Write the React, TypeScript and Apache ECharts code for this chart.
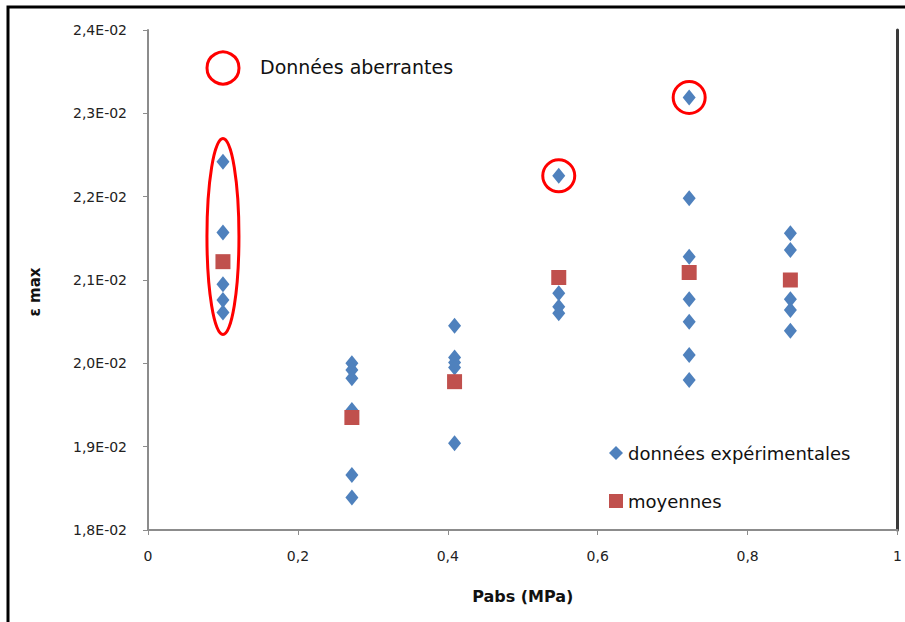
import React, { useEffect, useRef } from "react";
import * as echarts from "echarts";

// Pression absolue (MPa) de chaque groupe d'essais
const pressures = [0.1, 0.272, 0.409, 0.548, 0.722, 0.857];

// Données expérimentales (ε max) par pression
const experimental = [
  [0.02242, 0.02157, 0.02095, 0.02076, 0.02061],
  [0.02000, 0.01992, 0.01982, 0.01944, 0.01866, 0.01839],
  [0.02045, 0.02007, 0.02001, 0.01995, 0.01904],
  [0.02225, 0.02084, 0.02068, 0.02060],
  [0.02319, 0.02198, 0.02128, 0.02077, 0.02050, 0.02010, 0.01980],
  [0.02156, 0.02136, 0.02077, 0.02064, 0.02039],
];

// Moyennes par pression
const means = [0.02122, 0.01935, 0.01978, 0.02103, 0.02109, 0.02100];

// Données aberrantes (centre de l'annotation)
const outlierX = [0.1, 0.548, 0.722];
const outlierY = [0.021522, 0.02225, 0.02319];

const yTicks = { min: 0.018, max: 0.024, interval: 0.001 };
const xTicks = { min: 0, max: 1, interval: 0.2 };

const FONT = "DejaVu Sans";

export default function App() {
  const ref = useRef<HTMLDivElement>(null);
  useEffect(() => {
    if (!ref.current) return;
    const chart = echarts.init(ref.current, undefined, { renderer: "svg" });
    const expData: number[][] = [];
    pressures.forEach((p, i) => experimental[i].forEach((v) => expData.push([p, v])));
    // pixel radii of the red annotation rings
    const radii = [
      [16, 98],
      [16, 16],
      [16, 16],
    ];
    chart.setOption({
      animation: false,
      backgroundColor: "#fff",
      grid: { left: 148, right: 7, top: 30, bottom: 92 },
      xAxis: {
        type: "value",
        ...xTicks,
        name: "Pabs (MPa)",
        nameLocation: "middle",
        nameGap: 58,
        nameTextStyle: { fontFamily: FONT, fontSize: 16, fontWeight: "bold", color: "#111" },
        axisLine: { show: true, lineStyle: { color: "#8c8c8c", width: 2 } },
        axisTick: { show: true, length: 5, lineStyle: { color: "#8c8c8c", width: 1 } },
        axisLabel: {
          margin: 19,
          fontFamily: FONT,
          fontSize: 14,
          color: "#222",
          formatter: (v: number) => String(Number(v.toFixed(1))).replace(".", ","),
        },
        splitLine: { show: false },
      },
      yAxis: [
        {
          type: "value",
          ...yTicks,
          name: "ε max",
          nameLocation: "middle",
          nameRotate: 90,
          nameGap: 106,
          nameTextStyle: { fontFamily: FONT, fontSize: 15, fontWeight: "bold", color: "#111", padding: [0, 24, 0, 0] },
          axisLine: { show: true, lineStyle: { color: "#8c8c8c", width: 2 } },
          axisTick: { show: true, length: 5, lineStyle: { color: "#8c8c8c", width: 1 } },
          axisLabel: {
            margin: 21,
            fontFamily: FONT,
            fontSize: 14,
            color: "#222",
            formatter: (v: number) => (v * 100).toFixed(1).replace(".", ",") + "E-02",
          },
          splitLine: { show: false },
        },
        {
          type: "value",
          ...yTicks,
          position: "right",
          axisLine: { show: true, lineStyle: { color: "#3a3a3a", width: 3 } },
          axisTick: { show: false },
          axisLabel: { show: false },
          splitLine: { show: false },
        },
      ],
      legend: {
        orient: "vertical",
        left: 604,
        top: 439,
        itemGap: 30,
        itemWidth: 14,
        itemHeight: 14,
        textStyle: { fontFamily: FONT, fontSize: 18, color: "#111" },
        data: [
          { name: "données expérimentales", icon: "diamond" },
          { name: "moyennes", icon: "rect" },
        ],
      },
      series: [
        {
          type: "scatter",
          name: "données expérimentales",
          symbol: "diamond",
          symbolSize: [13, 16],
          itemStyle: { color: "#4F81BD", opacity: 1 },
          data: expData,
        },
        {
          type: "scatter",
          name: "moyennes",
          symbol: "rect",
          symbolSize: 15,
          itemStyle: { color: "#C0504D", opacity: 1 },
          data: pressures.map((p, i) => [p, means[i]]),
        },
        {
          type: "custom",
          name: "Données aberrantes",
          silent: true,
          data: outlierX.map((x, i) => [x, outlierY[i]]),
          renderItem: (params: any, api: any) => {
            const c = api.coord([api.value(0), api.value(1)]);
            const r = radii[params.dataIndex];
            return {
              type: "ellipse",
              shape: { cx: c[0], cy: c[1], rx: r[0], ry: r[1] },
              style: { fill: "none", stroke: "#FF0000", lineWidth: 3 },
            };
          },
        },
      ],
      graphic: [
        {
          type: "rect",
          shape: { x: 8, y: 7, width: 1200, height: 1200 },
          style: { fill: "none", stroke: "#000", lineWidth: 3 },
          silent: true,
        },
        {
          type: "circle",
          shape: { cx: 223, cy: 68, r: 16 },
          style: { fill: "none", stroke: "#FF0000", lineWidth: 3 },
          silent: true,
        },
        {
          type: "text",
          x: 260,
          y: 67,
          style: {
            text: "Données aberrantes",
            font: `19px "${FONT}"`,
            fill: "#111",
            textVerticalAlign: "middle",
          },
          silent: true,
        },
      ],
    });
    return () => chart.dispose();
  }, []);
  return (
    <div
      ref={ref}
      style={{ position: "fixed", left: 0, top: 0, width: 905, height: 622 }}
    />
  );
}
